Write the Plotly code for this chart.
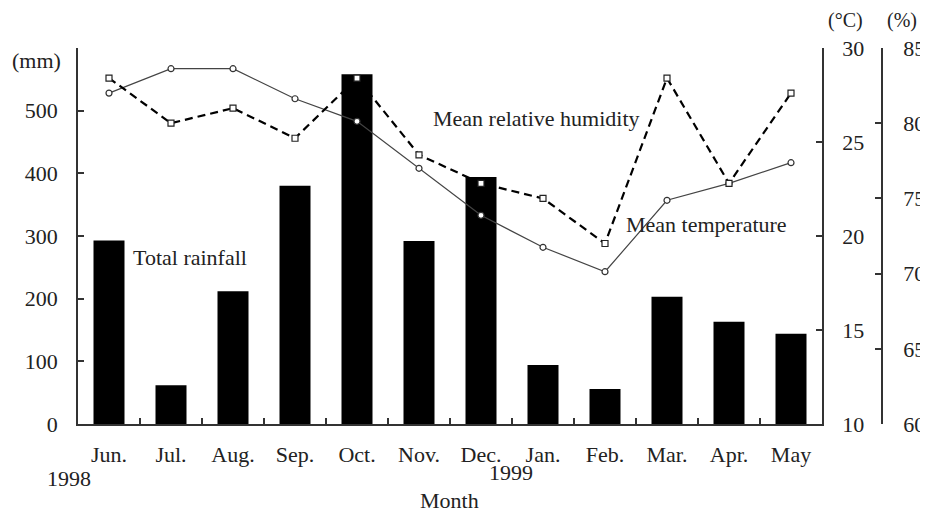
import plotly.graph_objects as go

months = ["Jun.", "Jul.", "Aug.", "Sep.", "Oct.", "Nov.", "Dec.", "Jan.", "Feb.", "Mar.", "Apr.", "May"]
rainfall_mm = [293, 62, 212, 380, 558, 292, 394, 94, 56, 203, 163, 144]
temperature_c = [27.6, 28.9, 28.9, 27.3, 26.1, 23.6, 21.1, 19.4, 18.1, 21.9, 22.8, 23.9]
humidity_pct = [83.0, 80.0, 81.0, 79.0, 83.0, 77.9, 76.0, 75.0, 72.0, 83.0, 76.0, 82.0]

rain_ticks = [0, 100, 200, 300, 400, 500, 600]
rain_ticktext = ["0", "100", "200", "300", "400", "500", ""]
temp_ticks = [10, 15, 20, 25, 30]
hum_ticks = [60, 65, 70, 75, 80, 85]

FONT = "Liberation Serif"
FS = 22
TXT = "#222222"
W, H = 928, 513
OFF = 8  # page body margin
# desired page coordinates: left axis 78, bottom 424, top 48, % axis 882
ML = 78 - OFF
MT = 48 - OFF
PW = 882 - 78
PH = 424 - 48
MR = W - ML - PW
MB = H - MT - PH
XD = 744 / PW

def px(x):
    return (x - OFF - ML) / PW

def py(y):
    return (MT + PH - (y - OFF)) / PH

fig = go.Figure()
fig.add_trace(go.Bar(x=months, y=rainfall_mm, marker=dict(color="black", line=dict(width=0)),
                     width=0.5, yaxis="y", showlegend=False))
fig.add_trace(go.Scatter(x=months, y=temperature_c, yaxis="y2", mode="lines+markers",
                         line=dict(color="#444444", width=1.2),
                         marker=dict(symbol="circle", size=6, color="white", line=dict(color="#333333", width=1.2)),
                         showlegend=False))
fig.add_trace(go.Scatter(x=months, y=humidity_pct, yaxis="y3", mode="lines+markers",
                         line=dict(color="black", width=2.2, dash="8px,5px"),
                         marker=dict(symbol="square", size=6, color="white", line=dict(color="#222222", width=1.2)),
                         showlegend=False))

axis_common = dict(showgrid=False, zeroline=False, showline=True, linecolor="#333333", linewidth=1.5,
                   ticks="inside", ticklen=6, tickwidth=1.5, tickcolor="#333333", automargin=False,
                   tickfont=dict(family=FONT, size=FS, color=TXT))

fig.update_layout(
    width=W, height=H, margin=dict(l=ML, r=MR, t=MT, b=MB, autoexpand=False),
    paper_bgcolor="white", plot_bgcolor="white",
    bargap=0.5,
    font=dict(family=FONT, size=FS, color=TXT),
    xaxis=dict(domain=[0, XD], type="category", range=[-0.5, 11.5], tickson="boundaries",
               ticklabelstandoff=10, **axis_common),
    yaxis=dict(range=[0, 600], tickvals=rain_ticks, ticktext=rain_ticktext, ticklabelstandoff=14,
               **axis_common),
    yaxis2=dict(range=[10, 30], tickvals=temp_ticks, overlaying="y", side="right", anchor="x",
                ticklabelstandoff=14, **axis_common),
    yaxis3=dict(range=[60, 85], tickvals=hum_ticks, overlaying="y", side="right", anchor="free",
                position=1.0, ticklabelstandoff=16, **axis_common),
)

annotations = [
    dict(text="Total rainfall", x=1.31, y=265, xref="x", yref="y", size=FS),
    dict(text="Mean relative humidity", x=6.89, y=488, xref="x", yref="y", size=FS),
    dict(text="Mean temperature", x=9.63, y=319, xref="x", yref="y", size=FS),
    dict(text="(mm)", x=px(36), y=py(60), xref="paper", yref="paper", size=FS),
    dict(text="(°C)", x=px(845), y=py(21), xref="paper", yref="paper", size=20),
    dict(text="(%)", x=px(902), y=py(21), xref="paper", yref="paper", size=20),
    dict(text="1998", x=px(69), y=py(479), xref="paper", yref="paper", size=FS),
    dict(text="1999", x=px(511), y=py(472), xref="paper", yref="paper", size=FS),
    dict(text="Month", x=px(449), y=py(500), xref="paper", yref="paper", size=FS),
]
for a in annotations:
    size = a.pop("size")
    fig.add_annotation(showarrow=False, font=dict(family=FONT, size=size, color=TXT),
                       xanchor="center", yanchor="middle", **a)

fig.write_html("out.html")
